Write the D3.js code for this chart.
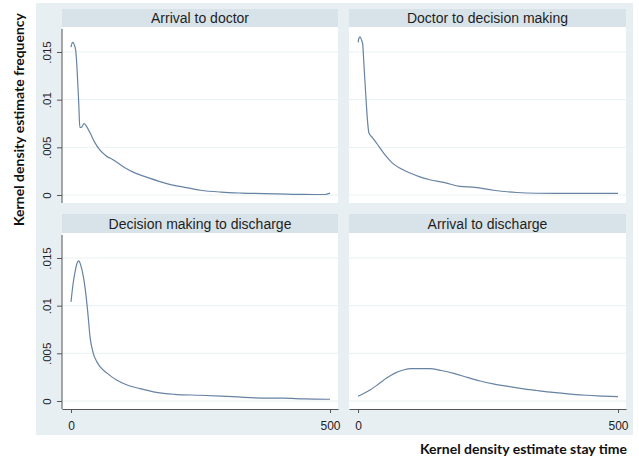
<!DOCTYPE html>
<html>
<head>
<meta charset="utf-8">
<script src="https://cdn.jsdelivr.net/npm/d3@7"></script>
<style>
  body { margin: 0; background: #ffffff; }
  .tick text { font-family: "Liberation Sans", Arial, sans-serif; fill: #222; }
</style>
</head>
<body>
<script>

// panel titles, in reading order
var panelTitles = ['Arrival to doctor', 'Doctor to decision making',
                   'Decision making to discharge', 'Arrival to discharge'];

// stay time (x) and kernel density estimate (y)
var arrivalDoctorTime = [0, 3, 6, 9, 11, 13, 15, 17, 20, 25, 30, 37, 45, 56, 68, 81, 100, 120, 150, 185, 220, 250, 290, 330, 400, 450, 490, 500];
var arrivalDoctorDens = [0.0155, 0.0160, 0.0158, 0.0152, 0.0138, 0.0118, 0.0095, 0.0071, 0.0071, 0.0075, 0.0072, 0.0065, 0.0056, 0.0047, 0.0041, 0.0037, 0.0030, 0.0024, 0.0018, 0.0012, 0.0008, 0.0005, 0.0003, 0.0002, 0.00012, 0.00006, 0.00005, 0.0002];

var doctorDecisionTime = [0, 2, 4, 7, 9, 11, 13.5, 16, 18, 21, 28, 36, 52, 65, 81, 100, 119, 138, 167, 196, 225, 260, 305, 344, 400, 450, 500];
var doctorDecisionDens = [0.0160, 0.0165, 0.0166, 0.0162, 0.0158, 0.0140, 0.0117, 0.0095, 0.0079, 0.0065, 0.0060, 0.0054, 0.0042, 0.0034, 0.0028, 0.0023, 0.0019, 0.0016, 0.0013, 0.0009, 0.0008, 0.0005, 0.00026, 0.00018, 0.00016, 0.00016, 0.00016];

var decisionDischargeTime = [0, 4, 8, 12, 15, 19, 24, 28, 32, 37, 43, 50, 56, 70, 88, 107, 133, 165, 200, 249, 313, 378, 409, 450, 500];
var decisionDischargeDens = [0.0104, 0.0123, 0.0136, 0.0145, 0.0147, 0.0142, 0.0130, 0.0115, 0.0095, 0.0066, 0.0050, 0.0041, 0.0036, 0.0029, 0.0022, 0.0017, 0.0013, 0.0009, 0.0007, 0.0006, 0.00045, 0.0003, 0.0003, 0.00022, 0.00018];

var arrivalDischargeTime = [0, 23, 40, 55, 70, 87, 103, 119, 138, 160, 184, 210, 235, 260, 286, 315, 344, 375, 408, 440, 472, 500];
var arrivalDischargeDens = [0.0005, 0.00115, 0.0018, 0.0024, 0.0029, 0.00325, 0.0034, 0.0034, 0.0034, 0.0032, 0.0029, 0.00248, 0.0021, 0.0018, 0.00155, 0.0013, 0.0011, 0.0009, 0.00073, 0.0006, 0.00052, 0.00045];

// axis ticks
var yTickValues = [0, 0.005, 0.01, 0.015];
var yTickLabels = ['0', '.005', '.01', '.015'];
var xTickValues = [0, 500];
var xTickLabels = ['0', '500'];

var xTitle = 'Kernel density estimate stay time';
var yTitle = 'Kernel density estimate frequency';

// pair the arrays up for drawing
function zipSerie(times, dens) {
	return times.map(function(t, i) { return {t: t, v: dens[i]}; });
}
var series = [
	zipSerie(arrivalDoctorTime, arrivalDoctorDens),
	zipSerie(doctorDecisionTime, doctorDecisionDens),
	zipSerie(decisionDischargeTime, decisionDischargeDens),
	zipSerie(arrivalDischargeTime, arrivalDischargeDens)
];

// layout of the 2x2 grid
var width = 639, height = 461;
var cols = [{x0: 62, x1: 338}, {x0: 349, x1: 626}];
var rows = [{s0: 9, s1: 27, p0: 27, p1: 203},
            {s0: 214, s1: 233, p0: 233, p1: 409}];

var svg = d3.select('body').append('svg')
    .attr('width', width)
    .attr('height', height);

// graph region background
svg.append('rect')
    .attr('x', 36).attr('y', 3)
    .attr('width', 597).attr('height', 432)
    .attr('fill', '#e8eff2');

var line = d3.line()
    .curve(d3.curveMonotoneX);

series.forEach(function(serie, i) {
	var col = cols[i % 2], row = rows[Math.floor(i / 2)];

	var x = d3.scaleLinear()
	    .domain([-17.4, 515.4])
	    .range([col.x0, col.x1]);
	var y = d3.scaleLinear()
	    .domain([-0.00084, 0.01762])
	    .range([row.p1, row.p0]);

	var g = svg.append('g');

	// strip with the panel title
	g.append('rect')
	    .attr('x', col.x0).attr('y', row.s0)
	    .attr('width', col.x1 - col.x0).attr('height', row.s1 - row.s0)
	    .attr('fill', '#d8e3e9');
	g.append('text')
	    .attr('x', (col.x0 + col.x1) / 2)
	    .attr('y', row.s1 - 4)
	    .attr('text-anchor', 'middle')
	    .style('font-family', '"Liberation Sans", Arial, sans-serif')
	    .style('font-size', '14px')
	    .attr('fill', '#1e1e1e')
	    .text(panelTitles[i]);

	// plot region
	g.append('rect')
	    .attr('x', col.x0).attr('y', row.p0)
	    .attr('width', col.x1 - col.x0).attr('height', row.p1 - row.p0)
	    .attr('fill', '#ffffff');

	// grid lines
	g.selectAll('.grid')
	    .data(yTickValues)
	  .enter().append('line')
	    .attr('class', 'grid')
	    .attr('x1', col.x0).attr('x2', col.x1)
	    .attr('y1', function(d) { return y(d); })
	    .attr('y2', function(d) { return y(d); })
	    .attr('stroke', '#eaf1f3')
	    .attr('stroke-width', 1);

	// the density curve
	line.x(function(d) { return x(d.t); })
	    .y(function(d) { return y(d.v); });
	g.append('path')
	    .datum(serie)
	    .attr('d', line)
	    .attr('fill', 'none')
	    .attr('stroke', '#6783a3')
	    .attr('stroke-width', 1.2);

	// y axis on left column only
	if (i % 2 === 0) {
		var yAxis = g.append('g')
		    .attr('transform', 'translate(' + col.x0 + ',0)')
		    .call(d3.axisLeft(y)
		        .tickValues(yTickValues)
		        .tickFormat(function(d, k) { return yTickLabels[k]; })
		        .tickSize(5)
		        .tickSizeOuter(0));
		yAxis.select('.domain')
		    .attr('d', 'M0,' + (row.p0 + 2) + 'V' + row.p1)
		    .attr('stroke', '#555');
		yAxis.selectAll('.tick line').attr('stroke', '#555');
		yAxis.selectAll('.tick text')
		    .style('font-size', '11.5px')
		    .attr('text-anchor', 'middle')
		    .attr('x', 0).attr('dy', 0)
		    .attr('transform', 'translate(-11,0) rotate(-90)');
	}

	// x axis on bottom row only
	if (i >= 2) {
		var xAxis = g.append('g')
		    .attr('transform', 'translate(0,' + row.p1 + ')')
		    .call(d3.axisBottom(x)
		        .tickValues(xTickValues)
		        .tickFormat(function(d, k) { return xTickLabels[k]; })
		        .tickSize(4)
		        .tickSizeOuter(0));
		xAxis.select('.domain').attr('stroke', '#555');
		xAxis.selectAll('.tick line').attr('stroke', '#555');
		xAxis.selectAll('.tick text')
		    .style('font-size', '12px')
		    .attr('y', 21).attr('dy', 0);
	}
});

// axis titles
svg.append('text')
    .attr('x', 627).attr('y', 454)
    .attr('text-anchor', 'end')
    .style('font-family', 'Lato, "Open Sans", sans-serif')
    .style('font-weight', 'bold')
    .style('font-size', '14px')
    .attr('fill', '#111')
    .text(xTitle);

svg.append('text')
    .attr('transform', 'translate(24,13) rotate(-90)')
    .attr('text-anchor', 'end')
    .style('font-family', 'Lato, "Open Sans", sans-serif')
    .style('font-weight', 'bold')
    .style('font-size', '14px')
    .attr('fill', '#111')
    .text(yTitle);

</script>
</body>
</html>
